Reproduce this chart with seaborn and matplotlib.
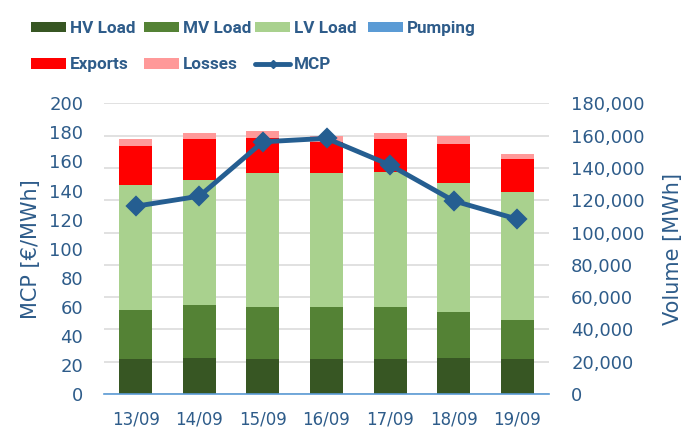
import numpy as np
import pandas as pd
import matplotlib
matplotlib.use("Agg")
import matplotlib.pyplot as plt
import seaborn as sns
from matplotlib.patches import Patch
from matplotlib.lines import Line2D
from matplotlib import font_manager

dates = ["13/09", "14/09", "15/09", "16/09", "17/09", "18/09", "19/09"]
hv_load = [21400, 22200, 21400, 21400, 21400, 22200, 21400]
mv_load = [30400, 32700, 32400, 32400, 32400, 28600, 24200]
lv_load = [77500, 77500, 82800, 82800, 83800, 79600, 79600]
pumping = [0, 0, 0, 0, 0, 0, 0]
exports = [24200, 25500, 22100, 19600, 20300, 24400, 20300]
losses = [4400, 3900, 4100, 3500, 3900, 4900, 3100]
mcp = [129.2, 136.1, 173.5, 175.9, 157.5, 132.9, 120.3]

series = [("HV Load", hv_load, "#375623"),
          ("MV Load", mv_load, "#548235"),
          ("LV Load", lv_load, "#A9D18E"),
          ("Pumping", pumping, "#5B9BD5"),
          ("Exports", exports, "#FF0000"),
          ("Losses", losses, "#FF9999")]
line_color = "#255E91"
text_color = "#2E5C8A"
axis_color = "#5B9BD5"

sns.set_style("white")
plt.rcParams['font.family'] = ['DejaVu Sans']

def have(fam):
    try:
        font_manager.findfont(font_manager.FontProperties(family=fam, weight="bold"),
                              fallback_to_default=False)
        return True
    except Exception:
        return False

if have("Liberation Sans Narrow"):
    leg_font = {"family": ["Liberation Sans Narrow", "DejaVu Sans"], "weight": "bold", "size": 14}
else:
    leg_font = {"family": ["Roboto", "DejaVu Sans"], "weight": "bold", "size": 12.3}

fig = plt.figure(figsize=(6.99, 4.29), dpi=100)
ax = fig.add_axes([104/699, (429-394)/429, (549-104)/699, (394-103.3)/429])

bottom = np.zeros(len(dates))
for name, vals, col in series:
    df = pd.DataFrame({"date": dates, "v": vals})
    sns.barplot(data=df, x="date", y="v", color=col, ax=ax, bottom=bottom,
                width=0.52, saturation=1, linewidth=0, errorbar=None, zorder=2)
    bottom = bottom + np.array(vals)

ax2 = ax.twinx()
sns.pointplot(x=dates, y=mcp, ax=ax2, color=line_color, marker="D",
              markersize=8, linewidth=3.5, errorbar=None)

ax.set_ylim(0, 180000)
ax.set_xlim(-0.5, len(dates) - 0.5)
ax.set_yticks(np.arange(0, 180001, 20000))
ax.yaxis.set_major_formatter(matplotlib.ticker.FuncFormatter(lambda v, p: f"{int(v):,}"))
ax.yaxis.tick_right()
ax.yaxis.set_label_position("right")
ax.grid(axis="y", color="#D9D9D9", linewidth=1.1)
ax.set_axisbelow(True)
ax.tick_params(axis="y", length=0, pad=16, labelsize=13, labelcolor=text_color)
ax.tick_params(axis="x", which="major", length=0, pad=12, labelsize=12, labelcolor=text_color)
ax.set_xticks(np.arange(-0.5, len(dates), 1.0), minor=True)
ax.tick_params(axis="x", which="minor", length=4, width=1.2, color=axis_color)
ax.set_xlabel("")
ax.set_ylabel("Volume [MWh]", fontsize=15, color=text_color, labelpad=13)
for s in ["top", "left", "right"]:
    ax.spines[s].set_visible(False)
ax.spines["bottom"].set_color(axis_color)
ax.spines["bottom"].set_linewidth(1.2)

ax2.set_ylim(0, 200)
ax2.set_xlim(-0.5, len(dates) - 0.5)
ax2.set_yticks(np.arange(0, 201, 20))
ax2.yaxis.tick_left()
ax2.yaxis.set_label_position("left")
ax2.tick_params(axis="y", length=0, pad=15, labelsize=13, labelcolor=text_color)
ax2.set_ylabel("MCP [€/MWh]", fontsize=15, color=text_color, labelpad=6)
for s in ["top", "left", "right", "bottom"]:
    ax2.spines[s].set_visible(False)
ax2.grid(False)

handles = {name: Patch(facecolor=col, edgecolor="none") for name, _, col in series}
handles["MCP"] = Line2D([0], [0], color=line_color, linewidth=3.5, marker="D", markersize=4)
columns = [["HV Load", "Exports"], ["MV Load", "Losses"], ["LV Load", "MCP"], ["Pumping"]]
col_x = [31, 144, 255, 368]
for names, xpx in zip(columns, col_x):
    leg = fig.legend([handles[n] for n in names], names, ncol=1, loc="upper left",
                     bbox_to_anchor=(xpx/699, 1 - 21/429), frameon=False,
                     prop=leg_font, borderpad=0,
                     handlelength=2.05, handleheight=0.6, handletextpad=0.25,
                     labelspacing=1.25, borderaxespad=0)
    for t in leg.get_texts():
        t.set_color(text_color)

fig.savefig("out.png", dpi=100)
